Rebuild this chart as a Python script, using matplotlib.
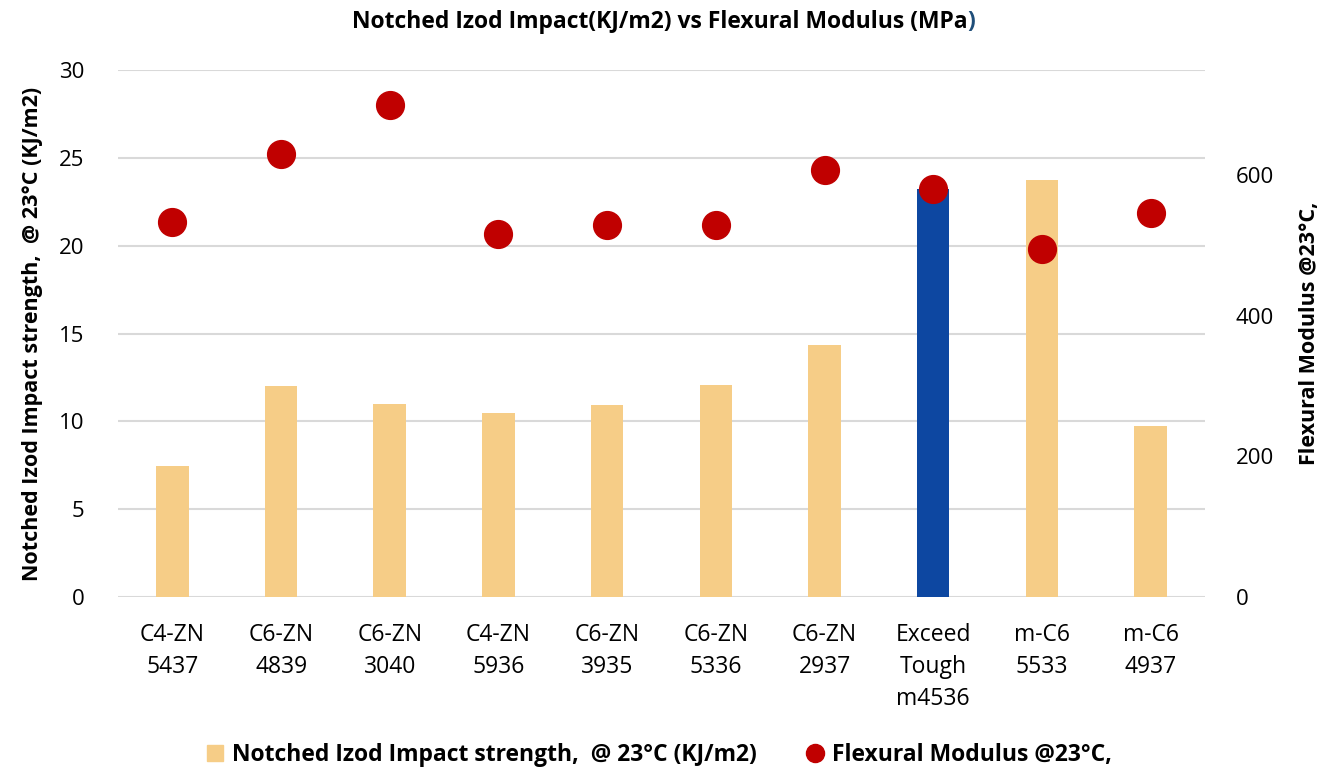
import matplotlib
matplotlib.use("Agg")
from matplotlib import pyplot as plt
from matplotlib.lines import Line2D
from matplotlib.patches import Patch

plt.rcParams['font.family'] = ['Open Sans', 'DejaVu Sans']

grades = ["C4-ZN\n5437", "C6-ZN\n4839", "C6-ZN\n3040", "C4-ZN\n5936", "C6-ZN\n3935",
          "C6-ZN\n5336", "C6-ZN\n2937", "Exceed\nTough\nm4536", "m-C6\n5533", "m-C6\n4937"]
izod = [7.45, 12.0, 11.0, 10.45, 10.95, 12.05, 14.35, 23.25, 23.75, 9.73]
flex_mod = [534, 630, 700, 516, 529, 529, 608, 580, 496, 547]
highlight = "Exceed\nTough\nm4536"

bar_color = "#F6CD87"
hi_color = "#0D47A1"
dot_color = "#C00000"
grid_color = "#D9D9D9"

fig = plt.figure(figsize=(13.19, 7.79), dpi=100)
ax = fig.add_axes([0.0895, 0.2336, 0.824, 0.6765])
ax2 = ax.twinx()

x = list(range(len(grades)))
colors = [hi_color if g == highlight else bar_color for g in grades]
ax.bar(x, izod, width=0.3, color=colors, zorder=2)
ax2.plot(x, flex_mod, linestyle="none", marker="o", markersize=20,
         color=dot_color, zorder=3)

ax.set_xlim(-0.5, len(grades) - 0.5)
ax.set_ylim(0, 30)
ax.set_yticks(range(0, 31, 5))
ax2.set_ylim(0, 750)
ax2.set_yticks([0, 200, 400, 600])

ax.yaxis.grid(True, color=grid_color, linewidth=1.5, zorder=0)
ax.set_axisbelow(True)
for a in (ax, ax2):
    for s in a.spines.values():
        s.set_visible(False)
    a.tick_params(length=0, labelsize=16)
ax.tick_params(axis="y", pad=24)
ax2.tick_params(axis="y", pad=22)
ax.tick_params(axis="x", pad=19, labelsize=16.5)
ax.set_xticks(x)
ax.set_xticklabels(grades, linespacing=1.42)

ax.set_ylabel("Notched Izod Impact strength,  @ 23°C (KJ/m2)", fontsize=15.5,
              fontweight="bold", labelpad=12)
ax2.set_ylabel("Flexural Modulus @23°C,", fontsize=15.5, fontweight="bold",
               rotation=90, labelpad=18)

title = fig.text(0.5, 0.972, "Notched Izod Impact(KJ/m2) vs Flexural Modulus (MPa",
                 ha="center", va="center", fontsize=16.5, fontweight="bold")
fig.canvas.draw()
bb = title.get_window_extent()
fig.text(bb.x1 / fig.bbox.width, 0.972, ")", ha="left", va="center",
         fontsize=16.5, fontweight="bold", color="#1F4E79")

handles = [Patch(color=bar_color, label="Notched Izod Impact strength,  @ 23°C (KJ/m2)"),
           Line2D([], [], linestyle="none", marker="o", markersize=13, color=dot_color,
                  label="Flexural Modulus @23°C,")]
fig.legend(handles=handles, loc="center", bbox_to_anchor=(0.5, 0.031), ncol=2,
           frameon=False, prop={"size": 16.5, "weight": "bold"}, handlelength=0.7,
           handletextpad=0.4, columnspacing=2.2)

fig.savefig("out.png", dpi=100)
